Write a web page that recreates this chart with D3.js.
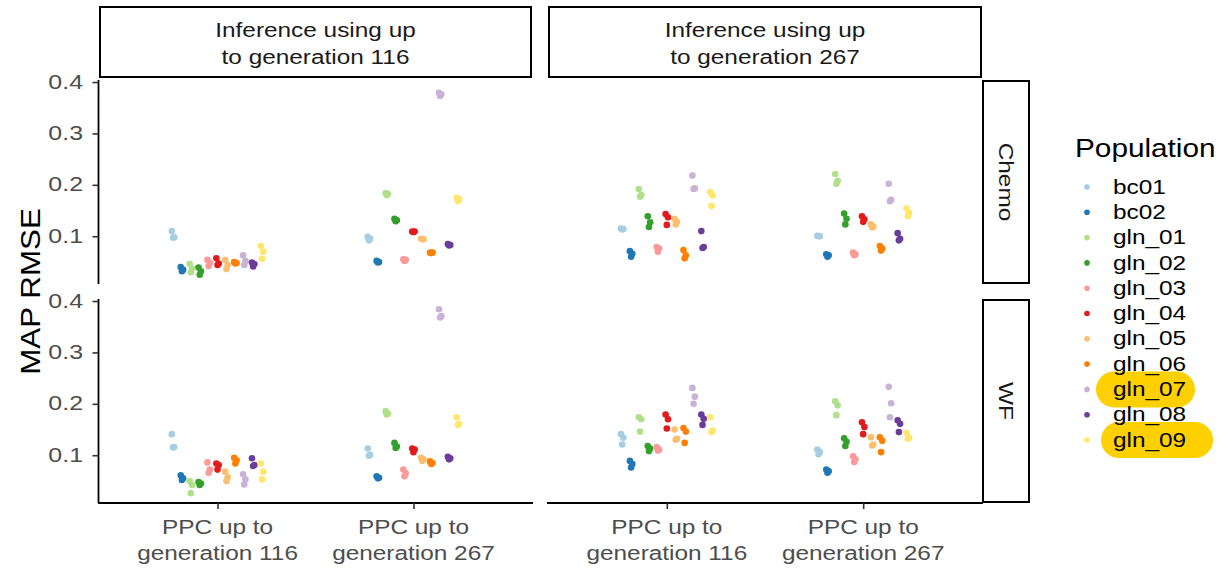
<!DOCTYPE html>
<html>
<head>
<meta charset="utf-8">
<script src="https://cdn.jsdelivr.net/npm/d3@7"></script>
<style>
  body { margin: 0; background: #fff; }
  text { font-family: "Liberation Sans", Arial, sans-serif; }
</style>
</head>
<body>
<div id="chart"></div>
<script>
// Danh mục và nhãn
const populations = ["bc01", "bc02", "gln_01", "gln_02", "gln_03", "gln_04", "gln_05", "gln_06", "gln_07", "gln_08", "gln_09"];
const popColors = ["#A6CEE3", "#1F78B4", "#B2DF8A", "#33A02C", "#FB9A99", "#E31A1C", "#FDBF6F", "#FF7F00", "#CAB2D6", "#6A3D9A", "#FFE76B"];
const ppcCategories = ["PPC up to\ngeneration 116", "PPC up to\ngeneration 267"];
const inferenceCols = ["Inference using up\nto generation 116", "Inference using up\nto generation 267"];
const modelRows = ["Chemo", "WF"];
const yTicks = [0.1, 0.2, 0.3, 0.4];

// Giá trị MAP RMSE: [PPC 116, PPC 267], mỗi quần thể 3 điểm
const chemoInf116 = [
  [[0.110, 0.098, 0.097], [0.040, 0.035, 0.032], [0.046, 0.037, 0.030], [0.039, 0.032, 0.025], [0.054, 0.048, 0.042], [0.057, 0.047, 0.044],
   [0.054, 0.044, 0.036], [0.050, 0.048, 0.047], [0.063, 0.052, 0.044], [0.049, 0.046, 0.041], [0.081, 0.070, 0.056]],
  [[0.099, 0.095, 0.092], [0.052, 0.050, 0.049], [0.184, 0.182, 0.180], [0.134, 0.131, 0.129], [0.055, 0.054, 0.052], [0.109, 0.109, 0.108],
   [0.095, 0.094, 0.094], [0.068, 0.068, 0.067], [0.379, 0.376, 0.373], [0.085, 0.083, 0.082], [0.175, 0.172, 0.168]]
];
const chemoInf267 = [
  [[0.115, 0.114, 0.113], [0.071, 0.066, 0.060], [0.192, 0.180, 0.177], [0.139, 0.127, 0.118], [0.079, 0.076, 0.070], [0.143, 0.137, 0.122],
   [0.134, 0.128, 0.123], [0.073, 0.063, 0.057], [0.218, 0.193, 0.192], [0.110, 0.079, 0.077], [0.186, 0.179, 0.159]],
  [[0.101, 0.100, 0.100], [0.065, 0.063, 0.060], [0.221, 0.208, 0.202], [0.144, 0.134, 0.123], [0.068, 0.065, 0.063], [0.139, 0.133, 0.128],
   [0.123, 0.119, 0.117], [0.081, 0.076, 0.072], [0.202, 0.171, 0.168], [0.106, 0.095, 0.092], [0.154, 0.145, 0.139]]
];
const wfInf116 = [
  [[0.141, 0.116, 0.115], [0.061, 0.055, 0.052], [0.050, 0.042, 0.026], [0.048, 0.045, 0.042], [0.086, 0.072, 0.066], [0.084, 0.081, 0.072],
   [0.068, 0.057, 0.050], [0.095, 0.090, 0.084], [0.063, 0.053, 0.043], [0.094, 0.081, 0.079], [0.084, 0.068, 0.053]],
  [[0.113, 0.101, 0.099], [0.059, 0.056, 0.055], [0.186, 0.181, 0.179], [0.124, 0.117, 0.114], [0.072, 0.065, 0.059], [0.113, 0.111, 0.106],
   [0.095, 0.092, 0.089], [0.088, 0.085, 0.083], [0.384, 0.371, 0.368], [0.097, 0.094, 0.092], [0.174, 0.161, 0.159]]
];
const wfInf267 = [
  [[0.141, 0.134, 0.121], [0.089, 0.083, 0.076], [0.174, 0.170, 0.146], [0.118, 0.113, 0.108], [0.116, 0.111, 0.109], [0.179, 0.170, 0.152],
   [0.150, 0.132, 0.130], [0.153, 0.146, 0.124], [0.231, 0.214, 0.200], [0.179, 0.171, 0.159], [0.174, 0.148, 0.145]],
  [[0.111, 0.106, 0.102], [0.072, 0.069, 0.066], [0.205, 0.197, 0.178], [0.133, 0.126, 0.118], [0.098, 0.092, 0.087], [0.164, 0.155, 0.141],
   [0.135, 0.121, 0.119], [0.135, 0.128, 0.106], [0.233, 0.201, 0.174], [0.168, 0.161, 0.145], [0.143, 0.134, 0.132]]
];
const highlighted = ["gln_07", "gln_09"];

const panelData = [
  [chemoInf116, chemoInf267],
  [wfInf116, wfInf267]
];

// Kích thước
const width = 1227, height = 571;
const colX = [[100, 531], [549, 981]];
const rowY = [[81, 283], [300, 502]];
const stripTop = [7, 77];
const stripRight = [983, 1029];
const tickGray = "#4D4D4D";
const stretch = 1.25; // chữ trong ảnh gốc rộng hơn font Arial thường

const svg = d3.select("#chart").append("svg")
  .attr("width", width).attr("height", height);

const color = d3.scaleOrdinal().domain(populations).range(popColors);

// Hàm vẽ chữ có giãn ngang
function addText(x, y, str, opts) {
  const o = Object.assign({ size: 19.5, anchor: "middle", fill: "#1A1A1A", rotate: 0, sx: stretch }, opts);
  return svg.append("text")
    .attr("transform", `translate(${x},${y}) rotate(${o.rotate}) scale(${o.sx},1)`)
    .attr("text-anchor", o.anchor)
    .attr("dominant-baseline", "central")
    .style("font-size", `${o.size}px`)
    .attr("fill", o.fill)
    .text(str);
}

// Vẽ từng panel
rowY.forEach((ry, r) => {
  const y = d3.scaleLinear().domain([0.009, 0.402]).range([ry[1], ry[0]]);
  colX.forEach((cx, c) => {
    const xp = d3.scalePoint().domain(ppcCategories).range(cx).padding(0.6);
    const dodge = d3.scaleBand().domain(populations).range([-0.25, 0.25]);
    const unit = (cx[1] - cx[0]) / 2.2;
    const jit = [-1.2, 1.2, 0];

    const g = svg.append("g");
    panelData[r][c].forEach((cat, ci) => {
      cat.forEach((vals, pi) => {
        vals.forEach((v, k) => {
          g.append("circle")
            .attr("cx", xp(ppcCategories[ci]) + (dodge(populations[pi]) + dodge.bandwidth() / 2) * unit + jit[k])
            .attr("cy", y(v))
            .attr("r", 3.3)
            .attr("fill", color(populations[pi]));
        });
      });
    });

    // Trục Y (chỉ cột trái)
    if (c === 0) {
      const ax = svg.append("g")
        .attr("transform", `translate(${cx[0] - 1.5},0)`)
        .call(d3.axisLeft(y).tickValues(yTicks).tickSize(6).tickFormat(""));
      ax.select(".domain").attr("stroke", "#000").attr("stroke-width", 1.8)
        .attr("d", `M0,${ry[0] - 1}V${ry[1] + 1}`);
      ax.selectAll(".tick line").attr("stroke", "#333").attr("stroke-width", 1.6);
      yTicks.forEach(t => {
        addText(83, y(t), d3.format(".1f")(t), { anchor: "end", fill: tickGray, size: 19.5, sx: 1.28 });
      });
    }
    // Trục X (chỉ hàng dưới)
    if (r === 1) {
      const ax = svg.append("g")
        .attr("transform", `translate(0,${ry[1] + 1})`)
        .call(d3.axisBottom(xp).tickSize(6).tickSizeOuter(0).tickFormat(""));
      ax.select(".domain").attr("stroke", "#000").attr("stroke-width", 1.8)
        .attr("d", `M${cx[0] - 2},0H${cx[1] + 2}`);
      ax.selectAll(".tick line").attr("stroke", "#333").attr("stroke-width", 1.6);
      ppcCategories.forEach(cat => {
        cat.split("\n").forEach((l, i) => {
          addText(xp(cat), ry[1] + 25 + i * 26, l, { fill: tickGray });
        });
      });
    }
  });
});

// Nhãn facet phía trên
inferenceCols.forEach((lab, c) => {
  const cx = colX[c];
  svg.append("rect")
    .attr("x", cx[0]).attr("y", stripTop[0])
    .attr("width", cx[1] - cx[0]).attr("height", stripTop[1] - stripTop[0])
    .attr("fill", "#fff").attr("stroke", "#000").attr("stroke-width", 2);
  lab.split("\n").forEach((l, i) => {
    addText((cx[0] + cx[1]) / 2, 30 + i * 27, l);
  });
});

// Nhãn facet bên phải
modelRows.forEach((lab, r) => {
  const ry = rowY[r];
  svg.append("rect")
    .attr("x", stripRight[0]).attr("y", ry[0])
    .attr("width", stripRight[1] - stripRight[0]).attr("height", ry[1] - ry[0])
    .attr("fill", "#fff").attr("stroke", "#000").attr("stroke-width", 2);
  addText((stripRight[0] + stripRight[1]) / 2, (ry[0] + ry[1]) / 2, lab, { rotate: 90 });
});

// Tiêu đề trục Y
addText(30, (rowY[0][0] + rowY[1][1]) / 2, "MAP RMSE", { rotate: -90, size: 28, fill: "#000", sx: 1.12 });

// Chú thích (Legend)
const legY = d3.scalePoint().domain(populations).range([187, 440]);
addText(1075, 148, "Population", { anchor: "start", size: 25, fill: "#000", sx: 1.19 });

highlighted.forEach(p => {
  const w = p === "gln_07" ? 99 : 112;
  const x0 = p === "gln_07" ? 1096 : 1101;
  svg.append("rect")
    .attr("x", x0).attr("y", legY(p) - 18)
    .attr("width", w).attr("height", 36)
    .attr("rx", 18).attr("ry", 18)
    .attr("fill", "#FFD000");
});

populations.forEach(p => {
  svg.append("circle")
    .attr("cx", 1087).attr("cy", legY(p))
    .attr("r", 2.8)
    .attr("fill", color(p));
  addText(1113, legY(p), p, { anchor: "start", size: 19.5, fill: "#000" });
});
</script>
</body>
</html>
